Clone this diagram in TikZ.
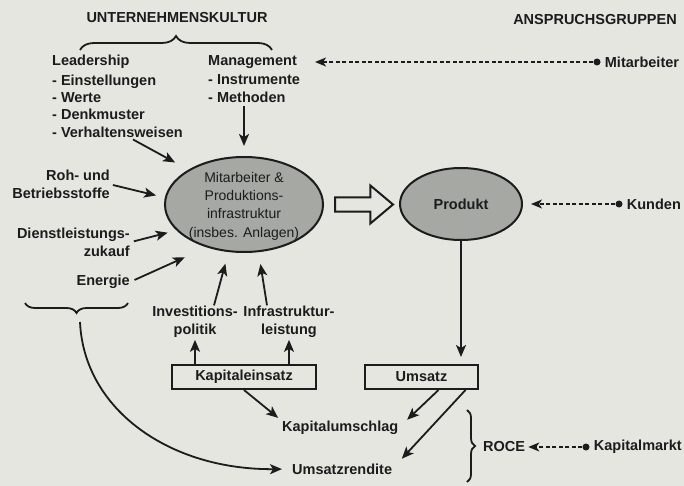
\documentclass[tikz,border=0pt]{standalone}
\usepackage{fontspec}
\setmainfont{Liberation Sans}
\usetikzlibrary{arrows.meta,positioning,shapes.geometric,shapes.arrows,decorations.pathreplacing}
\definecolor{paper}{RGB}{228,230,223}
\definecolor{ink}{RGB}{28,28,28}
\definecolor{ovalgray}{RGB}{166,168,163}

\begin{document}
\begin{tikzpicture}[
		x=1pt, y=-1pt,
		arrow/.style={draw=ink, line width=1.8pt, -{Stealth[length=12pt, width=10pt, inset=3pt]}},
		dasharrow/.style={draw=ink, line width=1.4pt, dash pattern=on 4pt off 2.5pt, -{Stealth[length=11pt, width=9pt, inset=3pt]}},
		txt/.style={text=ink, inner sep=0pt, font=\bfseries\fontsize{14.5}{18.5}\selectfont},
		items/.style={txt, align=left, font=\bfseries\fontsize{14.5}{17.3}\selectfont},
		block/.style={txt, draw=ink, line width=2pt, fill=paper, minimum height=24pt},
		oval/.style={ellipse, draw=ink, line width=2pt, fill=ovalgray, inner sep=0pt},
		dot/.style={circle, fill=ink, inner sep=0pt, minimum size=7pt},
		curly/.style={draw=ink, line width=1.8pt, decorate, decoration={brace, amplitude=#1}},
	]
		\fill[paper] (0,0) rectangle (684,486);
		\useasboundingbox (0,0) rectangle (684,486);

		\node (kultur) at (177,18) [txt] {UNTERNEHMENSKULTUR};
		\draw[curly=14pt] (80,50) -- (272,50);
		\node (gruppen) at (677,20) [txt, anchor=east] {ANSPRUCHSGRUPPEN};

		\node (lead) at (52,62) [txt, anchor=west] {Leadership};
		\node (leadl) at (52,74.6) [items, anchor=north west] {- Einstellungen\\- Werte\\- Denkmuster\\- Verhaltensweisen};
		\node (mgmt) at (208,62) [txt, anchor=west] {Management};
		\node (mgmtl) at (208,74.6) [items, anchor=north west] {- Instrumente\\- Methoden};

		\node (mpi) at (244,204.5) [oval, minimum width=158pt, minimum height=95pt] {};
		\node (mpitxt) at (244,206) [txt, font=\fontsize{14}{18.4}\selectfont, align=center] {Mitarbeiter \&\\Produktions-\\infrastruktur\\(insbes. Anlagen)};
		\node (prod) at (461,204) [oval, txt, minimum width=122pt, minimum height=72pt] {Produkt};
		\node (flow) at ([xshift=10pt]mpi.east) [single arrow, draw=ink, line width=2pt, fill=paper, minimum height=58pt, inner xsep=0pt, inner ysep=6pt, single arrow head extend=12pt, single arrow tip angle=80, anchor=tail] {};

		\node (roh) at (110,184.3) [txt, align=right, anchor=east] {Roh- und\\Betriebsstoffe};
		\node (dl) at (130,242.3) [txt, align=right, anchor=east] {Dienstleistungs-\\zukauf};
		\node (en) at (130,282) [txt, anchor=east] {Energie};
		\draw[curly=10pt] (128,303) -- (25,303);
		\coordinate (etip) at (80,322);

		\node (inv) at (195,321.6) [txt, align=center] {Investitions-\\politik};
		\node (infra) at (289,321.6) [txt, align=center] {Infrastruktur-\\leistung};
		\node (kein) at (244,377) [block, minimum width=144pt] {Kapitaleinsatz};
		\node (ums) at (421.5,377) [block, minimum width=113pt] {Umsatz};
		\node (kus) at (282,428) [txt, anchor=west] {Kapitalumschlag};
		\node (urend) at (292,469) [txt, anchor=west] {Umsatzrendite};
		\draw[curly=8pt] (467,410) -- (467,482);
		\node (roce) at (483,447) [txt, anchor=west] {ROCE};

		\node (mitdot) at (597,62) [dot] {};
		\node (mit) [txt, right=4pt of mitdot] {Mitarbeiter};
		\node (kdot) at (619,204) [dot] {};
		\node (kunden) [txt, right=4pt of kdot] {Kunden};
		\node (kmdot) at (586,447) [dot] {};
		\node (kmarkt) [txt, right=4pt of kmdot] {Kapitalmarkt};

		\draw[arrow, shorten <=4pt, shorten >=10pt] (mgmtl.south -| mpi.north) -- (mpi.north);
		\draw[arrow, shorten <=4pt, shorten >=15pt] ([xshift=12pt]leadl.south) -- (mpi.148);
		\draw[arrow, shorten <=3pt, shorten >=9pt] (roh.east) -- (mpi.175);
		\draw[arrow, shorten <=4pt, shorten >=9pt] (dl.east) -- (mpi.201);
		\draw[arrow, shorten <=5pt, shorten >=24pt] (en.east) -- (mpi.229);
		\draw[arrow, shorten >=12pt] ([xshift=19pt]inv.north) -- (mpi.252);
		\draw[arrow, shorten >=12pt] ([xshift=-22pt]infra.north) -- (mpi.287);
		\draw[arrow, shorten >=2pt] (inv.south |- kein.north) -- (inv.south);
		\draw[arrow, shorten >=2pt] (infra.south |- kein.north) -- (infra.south);
		\draw[arrow, shorten >=5pt] (kein.south) -- (kus.north west);
		\draw[arrow, shorten >=7pt] (prod.south) -- (prod.south |- ums.north);
		\draw[arrow, shorten >=12pt] ([xshift=17pt]ums.south) -- (kus.east);
		\draw[arrow, shorten >=14pt] ([xshift=44pt]ums.south) -- (urend.east);
		\draw[arrow, shorten >=10pt] (etip) .. controls (84,410) and (170,470) .. (urend.west);

		\draw[dasharrow, shorten >=18pt] (mitdot) -- (mgmt.east);
		\draw[dasharrow, shorten >=8pt] (kdot) -- (prod.east);
		\draw[dasharrow, shorten >=3pt] (kmdot) -- (roce.east);
	\end{tikzpicture}
\end{document}
